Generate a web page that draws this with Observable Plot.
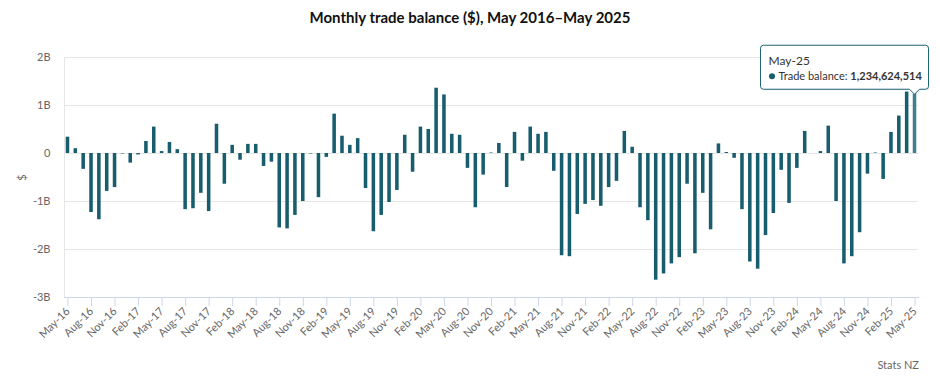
<!DOCTYPE html>
<html><head><meta charset="utf-8">
<script src="https://cdn.jsdelivr.net/npm/d3@7"></script>
<script src="https://cdn.jsdelivr.net/npm/@observablehq/plot@0.6"></script>
<style>
body{margin:0;background:#fff;font-family:Lato,sans-serif;}
#wrap{width:940px;height:376px;position:relative;overflow:hidden;}
#title{height:34px;line-height:34px;text-align:center;font-weight:700;font-size:15px;color:#111;}
#chart svg{display:block;overflow:visible;}
#caption{position:absolute;right:21px;top:358px;font-size:11px;color:#666;}
</style></head><body>
<div id="wrap"><div id="title">Monthly trade balance ($), May 2016–May 2025</div><div id="chart"></div><div id="caption">Stats NZ</div></div>
<script>
// Monthly trade balance, billions NZD, May 2016 – May 2025
const bal2016 = [0.34, 0.10, -0.33, -1.23, -1.38, -0.79, -0.71, -0.01];
const bal2017 = [-0.20, -0.03, 0.25, 0.55, 0.04, 0.23, 0.08, -1.17, -1.15, -0.83, -1.21, 0.61];
const bal2018 = [-0.64, 0.17, -0.14, 0.19, 0.19, -0.27, -0.18, -1.55, -1.57, -1.29, -1.00, -0.01];
const bal2019 = [-0.92, -0.08, 0.82, 0.36, 0.17, 0.31, -0.73, -1.63, -1.29, -1.02, -0.77, 0.38];
const bal2020 = [-0.39, 0.55, 0.50, 1.36, 1.22, 0.40, 0.38, -0.31, -1.13, -0.45, 0.01, 0.21];
const bal2021 = [-0.71, 0.44, -0.16, 0.55, 0.40, 0.44, -0.37, -2.13, -2.15, -1.27, -1.06, -0.98];
const bal2022 = [-1.10, -0.71, -0.58, 0.46, 0.13, -1.13, -1.40, -2.64, -2.51, -2.30, -2.17, -0.64];
const bal2023 = [-2.09, -0.83, -1.59, 0.20, 0.02, -0.10, -1.17, -2.26, -2.41, -1.71, -1.25, -0.35];
const bal2024 = [-1.04, -0.31, 0.46, 0.00, 0.04, 0.57, -1.00, -2.30, -2.15, -1.65, -0.43, 0.01];
const bal2025 = [-0.54, 0.44, 0.78, 1.28, 1.234624514];

const balanceBn = [...bal2016, ...bal2017, ...bal2018, ...bal2019, ...bal2020, ...bal2021, ...bal2022, ...bal2023, ...bal2024, ...bal2025];
const months = d3.utcMonth.range(new Date(Date.UTC(2016, 4, 1)), new Date(Date.UTC(2025, 5, 1))).map(d3.utcFormat("%b-%y"));
const yTicks = [-3e9, -2e9, -1e9, 0, 1e9, 2e9];
const tickMonths = months.filter((d, i) => i % 3 === 0);
const seriesName = "Trade balance";

const data = months.map((m, i) => ({month: m, value: balanceBn[i] * 1e9}));
const last = data[data.length - 1];

const plot = Plot.plot({
  width: 940, height: 320,
  marginTop: 23, marginBottom: 57, marginLeft: 64, marginRight: 22,
  style: {fontFamily: "Lato, sans-serif", fontSize: "11px", color: "#666", background: "transparent", overflow: "visible"},
  x: {type: "band", domain: months, paddingInner: 0.55, paddingOuter: 0.22},
  y: {domain: [-3e9, 2e9]},
  marks: [
    Plot.gridY(yTicks, {stroke: "#e6e6e6", strokeOpacity: 1}),
    Plot.frame({anchor: "left", stroke: "#e6e6e6", strokeOpacity: 1}),
    Plot.barY(data, {x: "month", y: "value", fill: "#175d6e", filter: (d, i) => i < data.length - 1}),
    Plot.barY([last], {x: "month", y: "value", fill: "#3f7f8f"}),
    Plot.frame({anchor: "bottom", stroke: "#ccd6eb", strokeOpacity: 1}),
    Plot.axisX({ticks: tickMonths, tickSize: 9, tickRotate: -45, tickPadding: 3, stroke: "#ccd6eb", strokeOpacity: 1, fill: "#666", label: null}),
    Plot.axisY({ticks: yTicks, tickSize: 0, tickPadding: 14, fill: "#666",
      tickFormat: d => d === 0 ? "0" : `${d / 1e9}B`,
      label: "$", labelAnchor: "center", labelOffset: 46, labelArrow: false})
  ]
});
document.getElementById("chart").appendChild(plot);

// Tooltip pinned to the last bar, positioned via Plot's scales
const xs = plot.scale("x"), ys = plot.scale("y");
const cx = xs.apply(last.month) + xs.bandwidth / 2;
const cy = ys.apply(last.value);
const boxR = cx + 14, boxW = 168, boxB = cy - 4.5, boxH = 44;
const boxL = boxR - boxW, boxT = boxB - boxH;
const svg = d3.select(plot);
const g = svg.append("g").attr("font-family", "Lato, sans-serif").attr("text-anchor", "start");
const path = `M${boxL + 3},${boxT} H${boxR - 3} Q${boxR},${boxT} ${boxR},${boxT + 3} V${boxB - 3} Q${boxR},${boxB} ${boxR - 3},${boxB} H${cx + 5} L${cx},${boxB + 5} L${cx - 5},${boxB} H${boxL + 3} Q${boxL},${boxB} ${boxL},${boxB - 3} V${boxT + 3} Q${boxL},${boxT} ${boxL + 3},${boxT} Z`;
g.append("path").attr("d", path).attr("transform", "translate(1,1)").attr("fill", "rgba(0,0,0,0.08)");
g.append("path").attr("d", path).attr("fill", "rgba(255,255,255,0.97)").attr("stroke", "#1f6475").attr("stroke-width", 1);
g.append("text").attr("x", boxL + 8).attr("y", boxT + 20).attr("font-size", 12).attr("fill", "#333").text(last.month);
g.append("circle").attr("cx", boxL + 11.5).attr("cy", boxT + 31).attr("r", 3).attr("fill", "#175d6e");
const t2 = g.append("text").attr("x", boxL + 18).attr("y", boxT + 35).attr("font-size", 11).attr("fill", "#333");
t2.append("tspan").text(seriesName + ": ");
t2.append("tspan").attr("font-weight", 700).text(d3.format(",")(Math.round(last.value)));
</script>
</body></html>
